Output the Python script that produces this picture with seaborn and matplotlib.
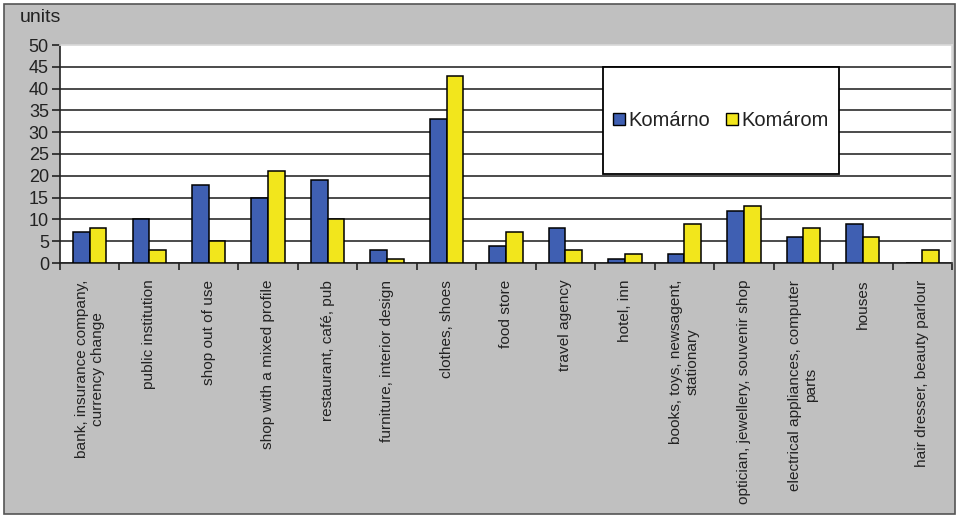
import matplotlib
matplotlib.use("Agg")
import matplotlib.pyplot as plt
from matplotlib.patches import Rectangle
import pandas as pd
import seaborn as sns

categories = [
    "bank, insurance company,\ncurrency change",
    "public institution",
    "shop out of use",
    "shop with a mixed profile",
    "restaurant, café, pub",
    "furniture, interior design",
    "clothes, shoes",
    "food store",
    "travel agency",
    "hotel, inn",
    "books, toys, newsagent,\nstationary",
    "optician, jewellery, souvenir shop",
    "electrical appliances, computer\nparts",
    "houses",
    "hair dresser, beauty parlour",
]
komarno = [7, 10, 18, 15, 19, 3, 33, 4, 8, 1, 2, 12, 6, 9, 0]
komarom = [8, 3, 5, 21, 10, 1, 43, 7, 3, 2, 9, 13, 8, 6, 3]
series = ["Komárno", "Komárom"]
yticks = list(range(0, 55, 5))

df = pd.DataFrame({
    "category": categories * 2,
    "town": [series[0]] * len(categories) + [series[1]] * len(categories),
    "units": komarno + komarom,
})

sns.set_theme(style="white")
plt.rcParams["font.family"] = ["Liberation Sans", "DejaVu Sans"]

W, H = 958, 516
fig = plt.figure(figsize=(W / 100, H / 100), dpi=100)
fig.patch.set_facecolor("white")

# grey chart area with a dark frame, kept behind the axes
frame = Rectangle((4 / W, 2 / H), 951 / W, 510 / H, transform=fig.transFigure,
                  facecolor="#c0c0c0", edgecolor="#555555", linewidth=1.2, zorder=-10)
fig.patches.append(frame)

ax = fig.add_axes([60 / W, 1 - 263 / H, 892 / W, 218 / H])
ax.set_facecolor("white")

palette = {"Komárno": "#3f5fb2", "Komárom": "#f2e61c"}
sns.barplot(data=df, x="category", y="units", hue="town", hue_order=series,
            order=categories, palette=palette, width=0.56, gap=0,
            edgecolor="black", linewidth=1.1, saturation=1, ax=ax, zorder=3)

ax.set_ylim(0, 50)
ax.set_xlim(-0.5, len(categories) - 0.5)
ax.set_yticks(yticks)
ax.set_yticklabels([str(v) for v in yticks], fontsize=13, color="#222222")
ax.set_xticks(range(len(categories)))
ax.set_xticklabels(categories, rotation=90, fontsize=11.1, ha="center", va="top",
                   multialignment="center", color="#222222")
ax.set_xticks([i - 0.5 for i in range(len(categories) + 1)], minor=True)
ax.tick_params(axis="x", which="major", length=0, pad=12)
ax.tick_params(axis="x", which="minor", length=5, width=1.2, color="#222222", direction="out",
               bottom=True)
ax.tick_params(axis="y", length=6, width=1.2, color="#222222", direction="out", pad=2, left=True)
ax.set_xlabel("")
ax.set_ylabel("")

ax.yaxis.grid(True, color="#1a1a1a", linewidth=1.1, zorder=1)
ax.get_ygridlines()[-1].set_visible(False)
ax.set_axisbelow(True)

for side in ["left", "bottom"]:
    ax.spines[side].set_color("#222222")
    ax.spines[side].set_linewidth(1.2)
ax.spines["top"].set_color("#d8d8d8")
ax.spines["right"].set_color("#d8d8d8")

# legend: large framed box with entries centred inside
lx0, lx1 = (603 - 60) / 892, (839 - 60) / 892
ly0, ly1 = (263 - 174) / 218, (263 - 67) / 218
ax.add_patch(Rectangle((lx0, ly0), lx1 - lx0, ly1 - ly0, transform=ax.transAxes,
                       facecolor="white", edgecolor="black", linewidth=1.3, zorder=5))
handles, labels = ax.get_legend_handles_labels()
for h in handles:
    h.set_edgecolor("black")
    h.set_linewidth(1.0)
leg = ax.legend(handles, labels, loc="center", bbox_to_anchor=((lx0 + lx1) / 2, (ly0 + ly1) / 2),
                ncol=2, frameon=False, fontsize=14.5, handlelength=0.6, handleheight=0.6,
                handletextpad=0.15, columnspacing=0.8, labelcolor="#222222")
leg.set_zorder(6)

fig.text(20 / W, 1 - 18 / H, "units", fontsize=14, va="center", ha="left", color="#222222")

fig.savefig("out.png", dpi=100)
